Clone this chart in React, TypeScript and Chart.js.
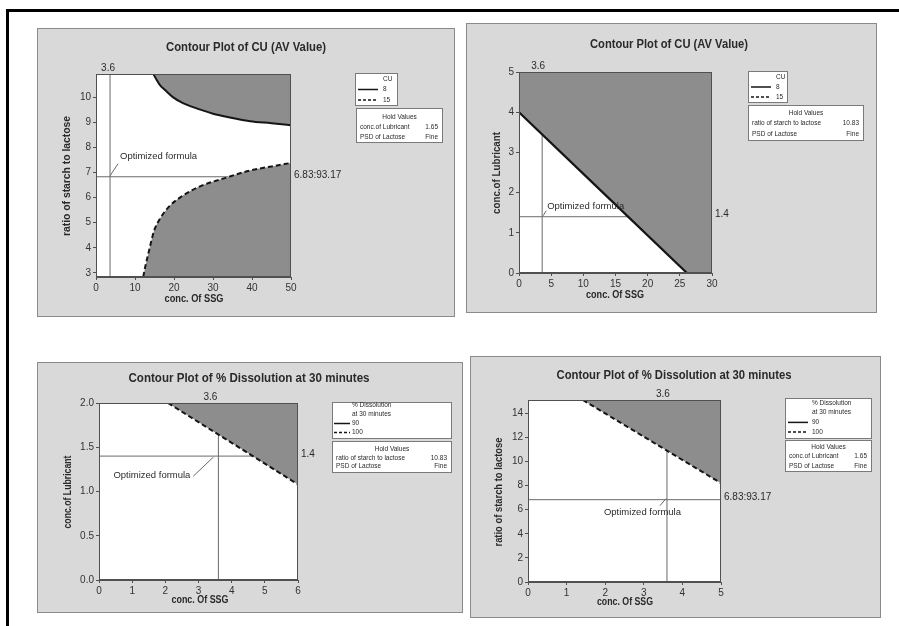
import React, { useEffect, useRef } from 'react';
import { Chart, registerables } from 'chart.js';
Chart.register(...registerables);

// ---------------- DATA ----------------
// Optimized formula
const optSSG = 3.6;
const optLubricant = 1.4;
const optRatio = [6.83, 93.17];

// Panel 1: CU (AV value), x = conc. of SSG, y = ratio of starch to lactose
const p1XTicks = [0, 10, 20, 30, 40, 50];
const p1YTicks = [3, 4, 5, 6, 7, 8, 9, 10];
const p1XRange = [0, 50];
const p1YRange = [2.84, 10.92];
const p1Cu8X = [14.7, 15.5, 16.4, 17.7, 19.7, 22.3, 24.9, 30, 35, 39.5, 45, 50];
const p1Cu8Y = [10.92, 10.7, 10.48, 10.28, 10.0, 9.76, 9.6, 9.34, 9.17, 9.04, 8.96, 8.88];
const p1Cu15X = [12.1, 12.7, 13.4, 14.9, 16.4, 18.5, 21.5, 26.7, 33.5, 39.5, 45, 50];
const p1Cu15Y = [2.84, 3.3, 3.76, 4.68, 5.16, 5.6, 6.0, 6.45, 6.8, 7.08, 7.24, 7.38];
const p1RefHEndX = 34;

// Panel 2: CU (AV value), x = conc. of SSG, y = conc. of Lubricant
const p2XTicks = [0, 5, 10, 15, 20, 25, 30];
const p2YTicks = [0, 1, 2, 3, 4, 5];
const p2XRange = [0, 30];
const p2YRange = [0, 5];
const p2Cu8X = [0, 26.1];
const p2Cu8Y = [4.0, 0];
const p2RefVEndY = 3.45;
const p2RefHEndX = 16.97;

// Panel 3: % dissolution at 30 min, x = conc. of SSG, y = conc. of Lubricant
const p3XTicks = [0, 1, 2, 3, 4, 5, 6];
const p3YTicks = [0, 0.5, 1.0, 1.5, 2.0];
const p3XRange = [0, 6];
const p3YRange = [0, 2];
const p3D100X = [2.08, 6];
const p3D100Y = [2.0, 1.08];
const p3RefVEndY = 1.643;
const p3RefHEndX = 4.64;

// Panel 4: % dissolution at 30 min, x = conc. of SSG, y = ratio of starch to lactose
const p4XTicks = [0, 1, 2, 3, 4, 5];
const p4YTicks = [0, 2, 4, 6, 8, 10, 12, 14];
const p4XRange = [0, 5];
const p4YRange = [0, 15.1];
const p4D100X = [1.42, 5];
const p4D100Y = [15.1, 8.2];
const p4RefVEndY = 10.9;

// ---------------- STYLE ----------------
const SHADE = '#8d8d8d';
const PANEL_BG = '#d9d9d9';
const LINE = '#151515';
const REF = '#6a6a6a';
const TXT = '#2a2a2a';
const FONT = '"Liberation Sans", Arial, sans-serif';
const YW = 30;
const XH = 18;

const pts = (xs: number[], ys: number[]) => xs.map((x, i) => ({ x, y: ys[i] }));
const seg = (x0: number, y0: number, x1: number, y1: number) => [{ x: x0, y: y0 }, { x: x1, y: y1 }];

const contour = (data: any[], fill: string, dashed: boolean, bw = 2) => ({
  data,
  borderColor: LINE,
  borderWidth: bw,
  borderDash: dashed ? [5, 3] : [],
  fill,
  backgroundColor: SHADE,
  cubicInterpolationMode: 'monotone',
  pointRadius: 0,
});
const refLine = (data: any[]) => ({
  data,
  borderColor: REF,
  borderWidth: 1,
  fill: false,
  pointRadius: 0,
});

type Legend1 = { box: number[]; titles: string[]; values: string[]; first: number; rowH: number; sx: number[] };
type Legend2 = { box: number[]; rows: string[][]; first: number; rowH: number };

type Panel = {
  box: number[];
  plot: number[];
  xRange: number[];
  yRange: number[];
  xTicks: number[];
  yTicks: number[];
  yDec: number;
  datasets: any[];
  opt: number[];
  rightLabel: string;
  topDx: number;
  leader: number[];
  optText: number[];
  title: string;
  titlePos: number[];
  xTitle: string;
  xTitlePos: number[];
  yTitle: string;
  yTitlePos: number[];
  legend1: Legend1;
  legend2: Legend2;
};

const TITLE1 = 'Contour Plot of CU (AV Value)';
const TITLE2 = 'Contour Plot of % Dissolution at 30 minutes';
const SSG = 'conc. Of SSG';
const RATIO = 'ratio of starch to lactose';
const LUB = 'conc.of Lubricant';

const panels: Panel[] = [
  {
    box: [37, 28, 418, 289],
    plot: [96, 74, 291, 277],
    xRange: p1XRange, yRange: p1YRange, xTicks: p1XTicks, yTicks: p1YTicks, yDec: 0,
    datasets: [
      contour(pts(p1Cu8X, p1Cu8Y), 'end', false),
      contour(pts(p1Cu15X, p1Cu15Y), 'start', true),
      refLine(seg(optSSG, p1YRange[0], optSSG, p1YRange[1])),
      refLine(seg(0, optRatio[0], p1RefHEndX, optRatio[0])),
    ],
    opt: [optSSG, optRatio[0]],
    rightLabel: `${optRatio[0]}:${optRatio[1]}`,
    topDx: -2,
    leader: [0, -1, 8, -13],
    optText: [10, -20],
    title: TITLE1, titlePos: [246, 48, 160],
    xTitle: SSG, xTitlePos: [194, 299, 59],
    yTitle: RATIO, yTitlePos: [67, 176, 120],
    legend1: { box: [355, 73, 43, 33], titles: ['CU'], values: ['8', '15'], first: 6, rowH: 10.5, sx: [3, 20, 28] },
    legend2: { box: [356, 108, 87, 35], rows: [['Hold Values'], ['conc.of Lubricant', '1.65'], ['PSD of Lactose', 'Fine']], first: 9, rowH: 10 },
  },
  {
    box: [466, 23, 411, 290],
    plot: [519, 72, 712, 273],
    xRange: p2XRange, yRange: p2YRange, xTicks: p2XTicks, yTicks: p2YTicks, yDec: 0,
    datasets: [
      contour(pts(p2Cu8X, p2Cu8Y), '', false, 2.2),
      { ...contour(pts([...p2Cu8X, p2XRange[1]], [...p2Cu8Y, p2YRange[0]]), 'end', false, 0), cubicInterpolationMode: 'default' },
      refLine(seg(optSSG, 0, optSSG, p2RefVEndY)),
      refLine(seg(0, optLubricant, p2RefHEndX, optLubricant)),
    ],
    opt: [optSSG, optLubricant],
    rightLabel: `${optLubricant}`,
    topDx: -4,
    leader: [1, -1, 4, -6],
    optText: [5, -10],
    title: TITLE1, titlePos: [669, 45, 158],
    xTitle: SSG, xTitlePos: [615, 295, 58],
    yTitle: LUB, yTitlePos: [497, 173, 82],
    legend1: { box: [748, 71, 40, 32], titles: ['CU'], values: ['8', '15'], first: 6, rowH: 10, sx: [3, 20, 28] },
    legend2: { box: [748, 105, 116, 36], rows: [['Hold Values'], ['ratio of starch to lactose', '10.83'], ['PSD of Lactose', 'Fine']], first: 8, rowH: 10.5 },
  },
  {
    box: [37, 362, 426, 251],
    plot: [99, 403, 298, 580],
    xRange: p3XRange, yRange: p3YRange, xTicks: p3XTicks, yTicks: p3YTicks, yDec: 1,
    datasets: [
      contour(pts(p3D100X, p3D100Y), 'end', true),
      refLine(seg(optSSG, 0, optSSG, p3RefVEndY)),
      refLine(seg(0, optLubricant, p3RefHEndX, optLubricant)),
    ],
    opt: [optSSG, optLubricant],
    rightLabel: `${optLubricant}`,
    topDx: -8,
    leader: [-25, 20, -5, 1],
    optText: [-105, 19],
    title: TITLE2, titlePos: [249, 379, 241],
    xTitle: SSG, xTitlePos: [200, 600, 57],
    yTitle: LUB, yTitlePos: [68, 492, 73],
    legend1: { box: [332, 402, 120, 37], titles: ['% Dissolution', 'at 30 minutes'], values: ['90', '100'], first: 3.5, rowH: 9, sx: [2, 16, 20] },
    legend2: { box: [332, 441, 120, 32], rows: [['Hold Values'], ['ratio of starch to lactose', '10.83'], ['PSD of Lactose', 'Fine']], first: 8.5, rowH: 8.5 },
  },
  {
    box: [470, 356, 411, 262],
    plot: [528, 400, 721, 582],
    xRange: p4XRange, yRange: p4YRange, xTicks: p4XTicks, yTicks: p4YTicks, yDec: 0,
    datasets: [
      contour(pts(p4D100X, p4D100Y), 'end', true),
      refLine(seg(optSSG, 0, optSSG, p4RefVEndY)),
      refLine(seg(0, optRatio[0], p4XRange[1], optRatio[0])),
    ],
    opt: [optSSG, optRatio[0]],
    rightLabel: `${optRatio[0]}:${optRatio[1]}`,
    topDx: -4,
    leader: [-7, 6, -1, -1],
    optText: [-63, 13],
    title: TITLE2, titlePos: [674, 376, 235],
    xTitle: SSG, xTitlePos: [625, 602, 56],
    yTitle: RATIO, yTitlePos: [499, 492, 109],
    legend1: { box: [785, 398, 87, 41], titles: ['% Dissolution', 'at 30 minutes'], values: ['90', '100'], first: 5, rowH: 9.7, sx: [3, 20, 27] },
    legend2: { box: [785, 440, 87, 32], rows: [['Hold Values'], ['conc.of Lubricant', '1.65'], ['PSD of Lactose', 'Fine']], first: 7, rowH: 9.5 },
  },
];

function text(ctx: CanvasRenderingContext2D, s: string, x: number, y: number, font: string, align: CanvasTextAlign, maxW?: number) {
  ctx.font = font;
  ctx.textAlign = align;
  ctx.textBaseline = 'middle';
  ctx.fillStyle = TXT;
  if (maxW) ctx.fillText(s, x, y, maxW);
  else ctx.fillText(s, x, y);
}

function decor(p: Panel) {
  const ox = p.box[0];
  const oy = p.box[1];
  return {
    id: 'decor',
    beforeDraw(chart: any) {
      const ctx = chart.ctx as CanvasRenderingContext2D;
      const a = chart.chartArea;
      ctx.save();
      ctx.fillStyle = PANEL_BG;
      ctx.fillRect(0, 0, chart.width, chart.height);
      ctx.strokeStyle = '#8a8a8a';
      ctx.lineWidth = 1;
      ctx.strokeRect(0.5, 0.5, chart.width - 1, chart.height - 1);
      ctx.fillStyle = '#ffffff';
      ctx.fillRect(a.left, a.top, a.right - a.left, a.bottom - a.top);
      ctx.restore();
    },
    afterDraw(chart: any) {
      const ctx = chart.ctx as CanvasRenderingContext2D;
      const a = chart.chartArea;
      const xs = chart.scales.x;
      const ys = chart.scales.y;
      ctx.save();
      // plot frame
      ctx.strokeStyle = '#505050';
      ctx.lineWidth = 1;
      ctx.strokeRect(a.left + 0.5, a.top + 0.5, a.right - a.left - 1, a.bottom - a.top - 1);

      const ix = xs.getPixelForValue(p.opt[0]);
      const iy = ys.getPixelForValue(p.opt[1]);
      // value labels of the optimum
      text(ctx, `${p.opt[0]}`, ix + p.topDx, a.top - 6, `10px ${FONT}`, 'center');
      text(ctx, p.rightLabel, a.right + 3, iy - 2, `10px ${FONT}`, 'left');
      // leader + label
      ctx.strokeStyle = REF;
      ctx.lineWidth = 1;
      ctx.beginPath();
      ctx.moveTo(ix + p.leader[0], iy + p.leader[1]);
      ctx.lineTo(ix + p.leader[2], iy + p.leader[3]);
      ctx.stroke();
      text(ctx, 'Optimized formula', ix + p.optText[0], iy + p.optText[1], `9.5px ${FONT}`, 'left', 77);

      // titles
      text(ctx, p.title, p.titlePos[0] - ox, p.titlePos[1] - oy, `bold 12px ${FONT}`, 'center', p.titlePos[2]);
      text(ctx, p.xTitle, p.xTitlePos[0] - ox, p.xTitlePos[1] - oy, `bold 11px ${FONT}`, 'center', p.xTitlePos[2]);
      ctx.save();
      ctx.translate(p.yTitlePos[0] - ox, p.yTitlePos[1] - oy);
      ctx.rotate(-Math.PI / 2);
      text(ctx, p.yTitle, 0, 0, `bold 11px ${FONT}`, 'center', p.yTitlePos[2]);
      ctx.restore();

      // legend 1
      const L1 = p.legend1;
      const [lx, ly, lw, lh] = [L1.box[0] - ox, L1.box[1] - oy, L1.box[2], L1.box[3]];
      ctx.fillStyle = '#ffffff';
      ctx.fillRect(lx, ly, lw, lh);
      ctx.strokeStyle = '#7a7a7a';
      ctx.strokeRect(lx + 0.5, ly + 0.5, lw - 1, lh - 1);
      let row = 0;
      const lf = `6.5px ${FONT}`;
      L1.titles.forEach((t) => {
        text(ctx, t, lx + L1.sx[2], ly + L1.first + L1.rowH * row, lf, 'left');
        row++;
      });
      L1.values.forEach((v, i) => {
        const yy = ly + L1.first + L1.rowH * row;
        ctx.strokeStyle = LINE;
        ctx.lineWidth = 1.5;
        ctx.setLineDash(i === 1 ? [3, 2] : []);
        ctx.beginPath();
        ctx.moveTo(lx + L1.sx[0], yy);
        ctx.lineTo(lx + L1.sx[0] + L1.sx[1], yy);
        ctx.stroke();
        ctx.setLineDash([]);
        text(ctx, v, lx + L1.sx[2], yy, lf, 'left');
        row++;
      });

      // legend 2 (hold values)
      const L2 = p.legend2;
      const [hx, hy, hw, hh] = [L2.box[0] - ox, L2.box[1] - oy, L2.box[2], L2.box[3]];
      ctx.fillStyle = '#ffffff';
      ctx.fillRect(hx, hy, hw, hh);
      ctx.strokeStyle = '#7a7a7a';
      ctx.lineWidth = 1;
      ctx.strokeRect(hx + 0.5, hy + 0.5, hw - 1, hh - 1);
      L2.rows.forEach((r, i) => {
        const yy = hy + L2.first + L2.rowH * i;
        if (r.length === 1) text(ctx, r[0], hx + hw / 2, yy, lf, 'center');
        else {
          text(ctx, r[0], hx + 4, yy, lf, 'left');
          text(ctx, r[1], hx + hw - 5, yy, lf, 'right');
        }
      });
      ctx.restore();
    },
  };
}

function makeChart(canvas: HTMLCanvasElement, p: Panel) {
  const [bx, by, bw, bh] = p.box;
  const [pl, pt, pr, pb] = p.plot;
  const padding = { left: pl - bx - YW, top: pt - by, right: bx + bw - pr, bottom: by + bh - pb - XH };
  const tickFont = { family: FONT, size: 10 };
  const grid = { display: true, drawOnChartArea: false, drawTicks: true, tickLength: 3, color: '#505050' };
  return new Chart(canvas, {
    type: 'line',
    data: { datasets: p.datasets },
    options: {
      animation: false,
      responsive: false,
      maintainAspectRatio: false,
      layout: { padding },
      plugins: { legend: { display: false }, tooltip: { enabled: false }, title: { display: false } },
      elements: { point: { radius: 0 }, line: { tension: 0 } },
      scales: {
        x: {
          type: 'linear',
          min: p.xRange[0],
          max: p.xRange[1],
          afterBuildTicks: (s: any) => { s.ticks = p.xTicks.map((v) => ({ value: v })); },
          afterFit: (s: any) => { s.height = XH; },
          ticks: { font: tickFont, color: '#333', padding: 2, maxRotation: 0, callback: (v: any) => `${v}` },
          grid,
          border: { display: true, color: '#505050' },
        },
        y: {
          type: 'linear',
          min: p.yRange[0],
          max: p.yRange[1],
          afterBuildTicks: (s: any) => { s.ticks = p.yTicks.map((v) => ({ value: v })); },
          afterFit: (s: any) => { s.width = YW; },
          ticks: { font: tickFont, color: '#333', padding: 2, callback: (v: any) => Number(v).toFixed(p.yDec) },
          grid,
          border: { display: true, color: '#505050' },
        },
      },
    } as any,
    plugins: [decor(p) as any],
  });
}

export default function App() {
  const refs = useRef<(HTMLCanvasElement | null)[]>([]);
  useEffect(() => {
    const charts = panels.map((p, i) => makeChart(refs.current[i] as HTMLCanvasElement, p));
    return () => charts.forEach((c) => c.destroy());
  }, []);
  return (
    <div style={{ position: 'absolute', left: 0, top: 0, width: 899, height: 626, background: '#fff', overflow: 'hidden' }}>
      <div style={{ position: 'absolute', left: 6, top: 9, width: 893, height: 3, background: '#000' }} />
      <div style={{ position: 'absolute', left: 6, top: 9, width: 3, height: 617, background: '#000' }} />
      {panels.map((p, i) => (
        <canvas
          key={i}
          ref={(el) => { refs.current[i] = el; }}
          width={p.box[2]}
          height={p.box[3]}
          style={{ position: 'absolute', left: p.box[0], top: p.box[1], width: p.box[2], height: p.box[3] }}
        />
      ))}
    </div>
  );
}
